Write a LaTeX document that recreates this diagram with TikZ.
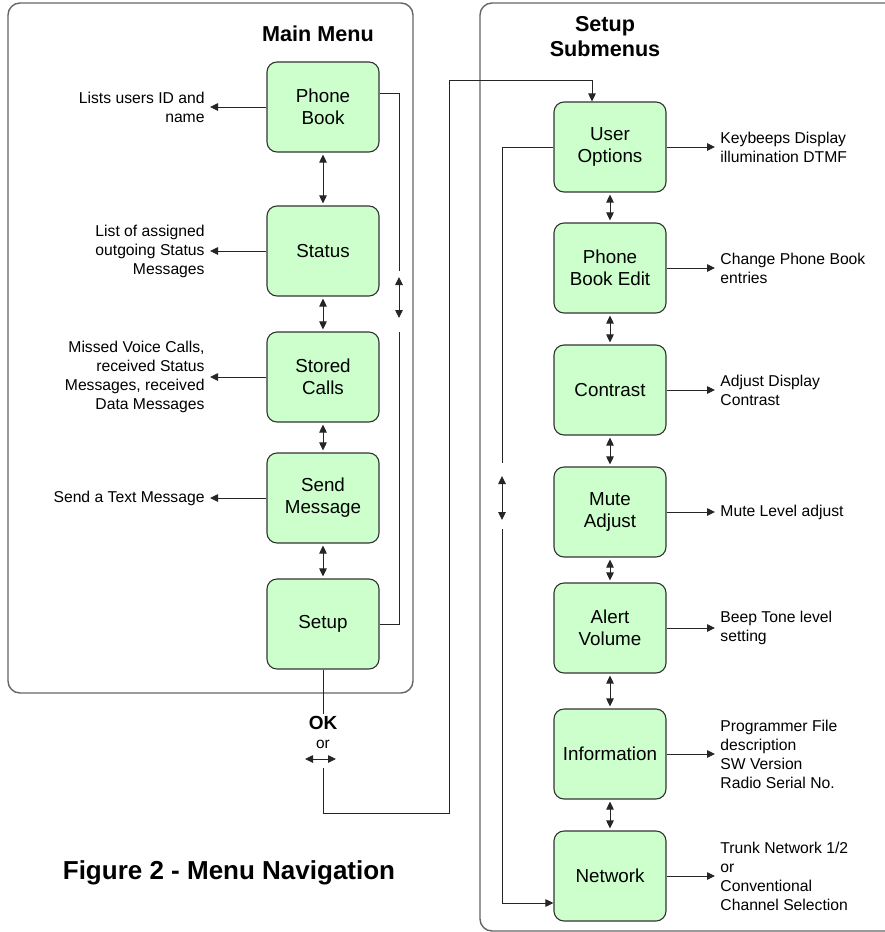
\documentclass[tikz,border=0pt]{standalone}
\usepackage{fontspec}
\setmainfont{Liberation Sans}
\usetikzlibrary{arrows.meta}
\definecolor{boxgreen}{HTML}{CCFFCC}

\begin{document}
\begin{tikzpicture}[x=1pt, y=-1pt, line width=0.9pt, draw=black!85,
    >={Triangle[length=8pt,width=7.5pt]},
    panel/.style={draw=black!60, line width=1.4pt, rounded corners=12pt},
    menubox/.style={draw=black!80, line width=1.1pt, fill=boxgreen, rounded corners=10pt,
      minimum width=112pt, minimum height=90pt, align=center,
      font=\fontsize{18.8}{22}\selectfont},
    note/.style={font=\fontsize{15.7}{19}\selectfont, inner sep=5pt},
    lnote/.style={note, anchor=east, align=right},
    rnote/.style={note, anchor=west, align=left},
    title/.style={font=\fontsize{21.6}{25}\selectfont\bfseries, align=center},
    link/.style={<->, shorten <=2pt, shorten >=2pt}]
  \useasboundingbox (0,0) rectangle (885,932);

  % frames
  \draw[panel] (8,3) rectangle (413,693);
  \draw[panel] (480,3) rectangle (897,931);
  \node[title] (mmtitle) at (318,34) {Main Menu};
  \node[title] (sstitle) at (605,37) {Setup\\Submenus};

  % main menu
  \node[menubox] (pbook) at (323,107) {Phone\\Book};
  \node[menubox] (status) at (323,251) {Status};
  \node[menubox] (stored) at (323,377) {Stored\\Calls};
  \node[menubox] (sendmsg) at (323,498) {Send\\Message};
  \node[menubox] (setup) at (323,624) {Setup};

  \node[lnote] (pbooknote) at (210,107) {Lists users ID and\\name};
  \node[lnote] (statusnote) at (210,251) {List of assigned\\outgoing Status\\Messages};
  \node[lnote] (storednote) at (210,377) {Missed Voice Calls,\\received Status\\Messages, received\\Data Messages};
  \node[lnote] (sendnote) at (210,498) {Send a Text Message};

  \draw[link] (pbook) -- (status);
  \draw[link] (status) -- (stored);
  \draw[link] (stored) -- (sendmsg);
  \draw[link] (sendmsg) -- (setup);
  \draw[->] (pbook) -- (pbooknote);
  \draw[->] (status) -- (statusnote);
  \draw[->] (stored) -- (storednote);
  \draw[->] (sendmsg) -- (sendnote);

  % setup submenus
  \node[menubox] (useropt) at (610,147) {User\\Options};
  \node[menubox] (pbedit) at (610,268) {Phone\\Book Edit};
  \node[menubox] (contrast) at (610,390) {Contrast};
  \node[menubox] (mute) at (610,512) {Mute\\Adjust};
  \node[menubox] (alert) at (610,628) {Alert\\Volume};
  \node[menubox] (info) at (610,754) {Information};
  \node[menubox] (network) at (610,876) {Network};

  \node[rnote] (useroptnote) at (715,147) {Keybeeps Display\\illumination DTMF};
  \node[rnote] (pbeditnote) at (715,268) {Change Phone Book\\entries};
  \node[rnote] (contrastnote) at (715,390) {Adjust Display\\Contrast};
  \node[rnote] (mutenote) at (715,512) {Mute Level adjust};
  \node[rnote] (alertnote) at (715,628) {Beep Tone level\\setting};
  \node[rnote] (infonote) at (715,754) {Programmer File\\description\\SW Version\\Radio Serial No.};
  \node[rnote] (networknote) at (715,876) {Trunk Network 1/2\\or\\Conventional\\Channel Selection};

  \draw[link] (useropt) -- (pbedit);
  \draw[link] (pbedit) -- (contrast);
  \draw[link] (contrast) -- (mute);
  \draw[link] (mute) -- (alert);
  \draw[link] (alert) -- (info);
  \draw[link] (info) -- (network);
  \draw[->] (useropt) -- (useroptnote);
  \draw[->] (pbedit) -- (pbeditnote);
  \draw[->] (contrast) -- (contrastnote);
  \draw[->] (mute) -- (mutenote);
  \draw[->] (alert) -- (alertnote);
  \draw[->] (info) -- (infonote);
  \draw[->] (network) -- (networknote);

  % wrap-around lines
  \coordinate (mmloop) at (399,93);
  \coordinate (mmgapA) at (399,271);
  \coordinate (mmarrA) at (399,277);
  \coordinate (mmarrB) at (399,318);
  \coordinate (mmgapB) at (399,332);
  \draw (pbook.east |- mmloop) -- (mmloop) -- (mmgapA);
  \draw[<->] (mmarrA) -- (mmarrB);
  \draw (mmgapB) |- (setup.east);

  \coordinate (ssloop) at (502,147);
  \coordinate (ssgapA) at (502,463);
  \coordinate (ssarrA) at (502,476);
  \coordinate (ssarrB) at (502,520);
  \coordinate (ssgapB) at (502,529);
  \coordinate (ssend) at (502,903);
  \draw (useropt) -- (ssloop) -- (ssgapA);
  \draw[<->] (ssarrA) -- (ssarrB);
  \draw[->] (ssgapB) -- (ssend) -- (network.west |- ssend);

  % setup -> submenus
  \node[font=\fontsize{19}{20}\selectfont\bfseries, inner sep=2pt] (ok) at (323,723) {OK};
  \node[font=\fontsize{15.4}{17}\selectfont, inner sep=1pt] (orlbl) at (323,744) {or};
  \coordinate (okL) at (305,759);
  \coordinate (okR) at (336,759);
  \coordinate (retA) at (323,768);
  \coordinate (retB) at (449,813);
  \coordinate (retC) at (449,80);
  \draw (setup) -- (ok);
  \draw[<->] (okL) -- (okR);
  \draw[->] (retA) |- (retB) -- (retC) -| ([xshift=-18pt]useropt.north);

  \node[font=\fontsize{26}{30}\selectfont\bfseries] (caption) at (229,873) {Figure 2 - Menu Navigation};
\end{tikzpicture}
\end{document}
